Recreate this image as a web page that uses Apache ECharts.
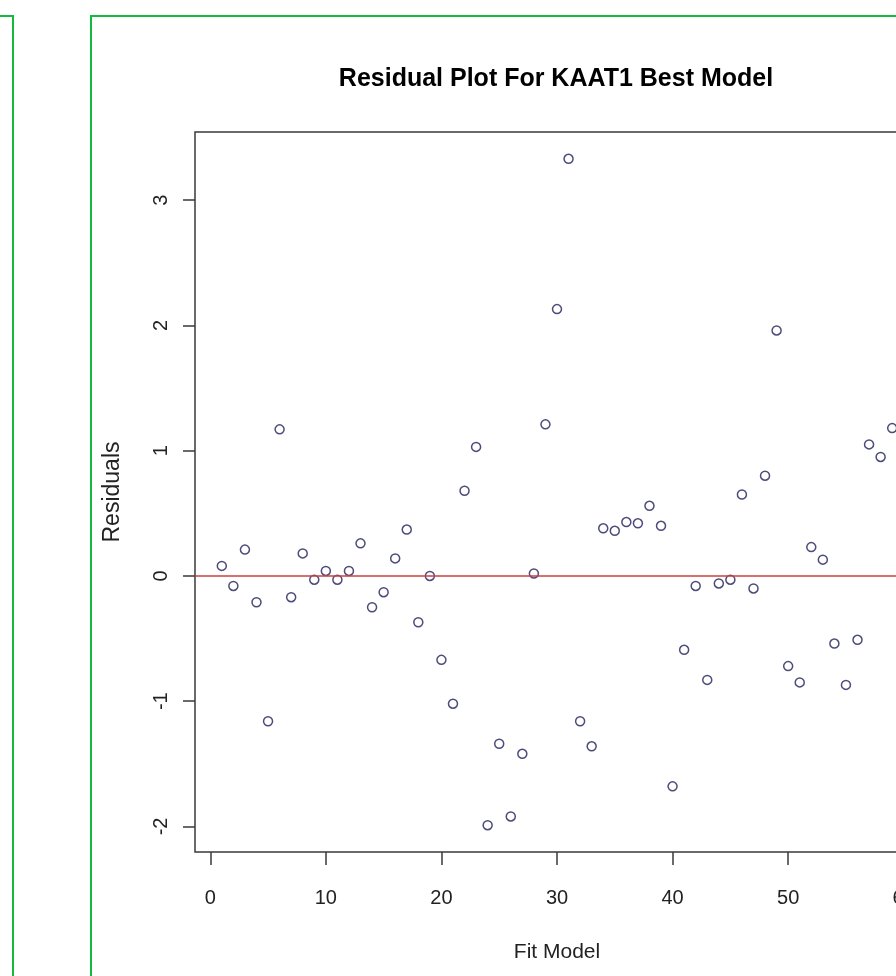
<!DOCTYPE html>
<html>
<head>
<meta charset="utf-8">
<script src="https://cdn.jsdelivr.net/npm/echarts@6/dist/echarts.min.js"></script>
<style>
  html, body { margin: 0; padding: 0; background: #ffffff; }
  #chart { width: 896px; height: 976px; }
</style>
</head>
<body>
<div id="chart"></div>
<script>
// Observation index of each fitted model
const fitModel = [
  1, 2, 3, 4, 5, 6, 7, 8, 9, 10,
  11, 12, 13, 14, 15, 16, 17, 18, 19, 20,
  21, 22, 23, 24, 25, 26, 27, 28, 29, 30,
  31, 32, 33, 34, 35, 36, 37, 38, 39, 40,
  41, 42, 43, 44, 45, 46, 47, 48, 49, 50,
  51, 52, 53, 54, 55, 56, 57, 58, 59
];

// Residual for each observation
const residuals = [
  0.08, -0.08, 0.21, -0.21, -1.16, 1.17, -0.17, 0.18, -0.03, 0.04,
  -0.03, 0.04, 0.26, -0.25, -0.13, 0.14, 0.37, -0.37, 0.00, -0.67,
  -1.02, 0.68, 1.03, -1.99, -1.34, -1.92, -1.42, 0.02, 1.21, 2.13,
  3.33, -1.16, -1.36, 0.38, 0.36, 0.43, 0.42, 0.56, 0.40, -1.68,
  -0.59, -0.08, -0.83, -0.06, -0.03, 0.65, -0.10, 0.80, 1.96, -0.72,
  -0.85, 0.23, 0.13, -0.54, -0.87, -0.51, 1.05, 0.95, 1.18
];

// Tick positions
const xTicks = [0, 10, 20, 30, 40, 50, 60];
const yTicks = [-2, -1, 0, 1, 2, 3];

// Reference level drawn across the plot
const zeroLevel = 0;

// Axis limits padded 4% beyond the data, as in base R graphics
const xMin = -1.32, xMax = 61.32;
const yMin = -2.204, yMax = 3.544;

const points = fitModel.map((x, i) => [x, residuals[i]]);

const FONT = "'Liberation Sans', Arial, sans-serif";
const BOX = '#3a3a3a';
const FRAME = '#12bb3c';

const chart = echarts.init(document.getElementById('chart'), null, { renderer: 'canvas' });

chart.setOption({
  animation: false,
  backgroundColor: '#ffffff',
  title: {
    text: 'Residual Plot For KAAT1 Best Model',
    left: 551,
    top: 62,
    textAlign: 'center',
    textStyle: { fontFamily: FONT, fontSize: 25, fontWeight: 'bold', color: '#000000' }
  },
  grid: {
    left: 195,
    top: 132,
    width: 724,
    height: 720,
    outerBoundsMode: 'none',
    containLabel: false,
    show: true,
    borderColor: BOX,
    borderWidth: 1.5,
    backgroundColor: 'transparent'
  },
  xAxis: {
    type: 'value',
    min: xMin,
    max: xMax,
    name: 'Fit Model',
    nameLocation: 'middle',
    nameGap: 90,
    nameTextStyle: { fontFamily: FONT, fontSize: 21, color: '#222222' },
    axisLine: { show: false, onZero: false },
    axisTick: { show: true, length: 13, customValues: xTicks, lineStyle: { color: BOX, width: 1.5 } },
    axisLabel: { show: true, customValues: xTicks, margin: 36, fontFamily: FONT, fontSize: 20, color: '#222222' },
    splitLine: { show: false }
  },
  yAxis: {
    type: 'value',
    min: yMin,
    max: yMax,
    name: 'Residuals',
    nameLocation: 'middle',
    nameGap: 71,
    nameTextStyle: { fontFamily: FONT, fontSize: 23, color: '#222222' },
    axisLine: { show: false, onZero: false },
    axisTick: { show: true, length: 12, customValues: yTicks, lineStyle: { color: BOX, width: 1.5 } },
    axisLabel: { show: true, rotate: 90, customValues: yTicks, margin: 24, fontFamily: FONT, fontSize: 20, color: '#222222' },
    splitLine: { show: false }
  },
  series: [{
    type: 'scatter',
    data: points,
    symbol: 'circle',
    symbolSize: 9,
    itemStyle: { color: 'rgba(0,0,0,0)', borderColor: '#1f1f5a', borderWidth: 1.5 },
    markLine: {
      silent: true,
      symbol: 'none',
      label: { show: false },
      lineStyle: { color: '#cc4040', width: 1.6, type: 'solid' },
      data: [{ yAxis: zeroLevel }],
      z: 5
    }
  }],
  graphic: [
    {
      type: 'rect',
      shape: { x: -10, y: 16, width: 23, height: 1000 },
      style: { fill: 'none', stroke: FRAME, lineWidth: 2 }
    },
    {
      type: 'rect',
      shape: { x: 91, y: 16, width: 900, height: 1000 },
      style: { fill: 'none', stroke: FRAME, lineWidth: 2 }
    }
  ]
});
</script>
</body>
</html>
